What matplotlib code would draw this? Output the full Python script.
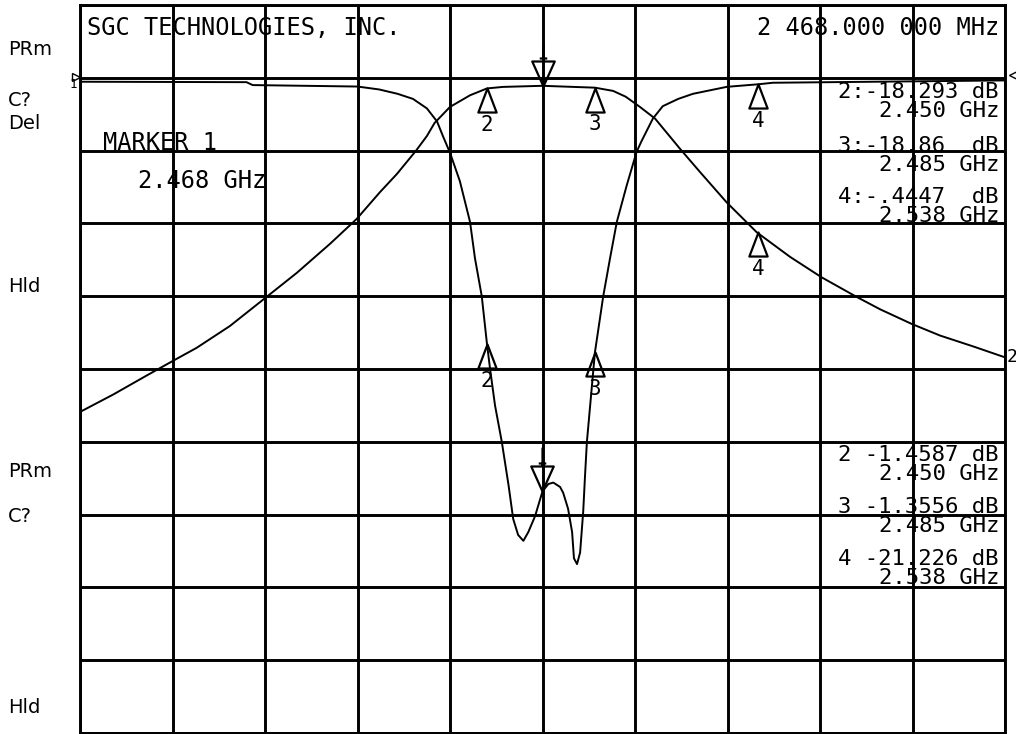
import numpy as np
import matplotlib
matplotlib.use("Agg")
import matplotlib.pyplot as plt
from matplotlib.path import Path
from matplotlib.markers import MarkerStyle
from matplotlib.transforms import offset_copy

# ---------------- data ----------------
# frequency axis (MHz): center 2468, span 300 -> 30 MHz/div
f_start, f_stop, f_div = 2318, 2618, 30

# channel 2 : transmission (10 dB/div, ref 0 dB one division below top)
f21 = [2318.0, 2328.8, 2339.6, 2348.5, 2355.8, 2366.6, 2378.5, 2388.3, 2399.1,
       2407.7, 2415.3, 2420.8, 2427.0, 2430.5, 2433.0, 2438.0, 2444.5, 2450.0,
       2455.2, 2468.0, 2485.0, 2490.9, 2495.0, 2499.6, 2504.5, 2512.6, 2519.1,
       2527.7, 2537.5, 2548.3, 2558.5, 2569.9, 2577.5, 2587.7, 2596.9, 2607.7,
       2618.0]
db21 = [-45.9, -43.5, -40.9, -38.8, -37.1, -34.1, -30.1, -26.8, -22.8,
        -19.4, -15.7, -13.2, -10.0, -8.0, -6.2, -4.0, -2.4, -1.4587,
        -1.25, -1.1, -1.3556, -1.8, -2.6, -4.0, -5.6, -9.75, -12.95,
        -17.1, -21.226, -24.6, -27.4, -30.1, -31.8, -33.8, -35.4, -36.9,
        -38.4]

# channel 1 : reflection (5 dB/div, ref 0 dB one division below top)
f11 = [2318, 2372, 2374, 2408, 2415, 2421, 2426, 2430.5, 2433.8, 2435.7, 2438,
       2441.2, 2444.5, 2446.1, 2448.3, 2450, 2451.0, 2452.6, 2454.8, 2457.0,
       2458.5, 2460.1, 2461.8, 2463.4, 2465.6, 2468.0, 2469.9, 2471.5, 2473.7,
       2474.7, 2476.3, 2477.6, 2478.2, 2479.2, 2480.2, 2481.2, 2481.8, 2482.4,
       2485.0, 2487.7, 2489.9, 2492.1, 2495.3, 2498.5, 2500.0, 2503.8, 2507.0,
       2512.0, 2516.8, 2527.8, 2538.0, 2542.7, 2618]
db11 = [-0.27, -0.3, -0.5, -0.6, -0.8, -1.1, -1.45, -2.1, -3.0, -4.0, -5.15,
        -7.1, -9.9, -12.4, -15.0, -18.293, -20.0, -22.5, -25.0, -28.0,
        -30.3, -31.4, -31.8, -31.2, -30.1, -28.4, -27.9, -27.8, -28.1,
        -28.5, -29.6, -31.2, -33.0, -33.4, -32.6, -29.8, -27.3, -25.0,
        -18.86, -15.0, -12.4, -9.9, -7.4, -5.1, -4.4, -2.8, -1.95,
        -1.45, -1.1, -0.62, -0.4447, -0.34, -0.18]

# markers (MHz) and their readings
mk_freq = [2450, 2485, 2538]
mk_ids = ["2", "3", "4"]
mk21 = [-1.4587, -1.3556, -21.226]
mk11 = [-18.293, -18.86, -0.4447]
m1_freq = 2468
m1_21 = -1.1
m1_11 = -28.4

top_readouts = [("2:-18.293 dB", "2.450 GHz"),
                ("3:-18.86  dB", "2.485 GHz"),
                ("4:-.4447  dB", "2.538 GHz")]
low_readouts = [("2 -1.4587 dB", "2.450 GHz"),
                ("3 -1.3556 dB", "2.485 GHz"),
                ("4 -21.226 dB", "2.538 GHz")]
left_labels = [("PRm", 55), ("C?", 106), ("Del", 129), ("Hld", 292),
               ("PRm", 477), ("C?", 522), ("Hld", 713)]

# ---------------- figure ----------------
W, H = 1016, 734
fig = plt.figure(figsize=(W / 100, H / 100), dpi=100)
fig.patch.set_facecolor("white")

def fx(x):
    return x / W

def fy(y):
    return 1 - y / H

L, R, T, B = 80, 1005, 5, 733
ax = fig.add_axes([fx(L), fy(B), (R - L) / W, (B - T) / H])
ax.set_xlim(f_start, f_stop)
ax.set_ylim(-90, 10)
ax.set_xticks(np.arange(f_start, f_stop + 1, f_div))
ax.set_yticks(np.arange(-90, 11, 10))
ax.grid(True, color="black", linewidth=2.1)
ax.tick_params(length=0, labelbottom=False, labelleft=False)
for s in ax.spines.values():
    s.set_linewidth(2.1)
    s.set_color("black")

ax2 = ax.twinx()
ax2.set_ylim(-45, 5)
ax2.set_yticks([])
for s in ax2.spines.values():
    s.set_visible(False)

tr_kw = dict(color="black", linewidth=1.4, solid_joinstyle="round")
ax.plot(f21, db21, **tr_kw)
ax2.plot(f11, db11, **tr_kw)

# marker symbols
up_path = Path([(0, 0), (-0.38, -1), (0.38, -1), (0, 0)],
               [Path.MOVETO, Path.LINETO, Path.LINETO, Path.CLOSEPOLY])
down_path = Path([(0, 0), (-0.45, 1), (0.45, 1), (0, 0),
                  (0, 1), (0, 1.75), (-0.15, 1.12), (0.15, 1.12)],
                 [Path.MOVETO, Path.LINETO, Path.LINETO, Path.CLOSEPOLY,
                  Path.MOVETO, Path.LINETO, Path.MOVETO, Path.LINETO])
up_m = MarkerStyle(up_path)
down_m = MarkerStyle(down_path)
mk_kw = dict(linestyle="none", mfc="none", mec="black", mew=1.6)

mono = "DejaVu Sans Mono"
for a, vals, m1v in ((ax, mk21, m1_21), (ax2, mk11, m1_11)):
    a.plot(mk_freq, vals, marker=up_m, ms=34.6, **mk_kw)
    a.plot([m1_freq], [m1v], marker=down_m, ms=63, **mk_kw)
    for f, v, n in zip(mk_freq, vals, mk_ids):
        a.annotate(n, xy=(f, v), xytext=(0, -26.5), textcoords="offset points",
                   ha="center", va="center", fontsize=15, family=mono)

# reference position indicators
ax.annotate("1", xy=(f_start, 0), xytext=(-5, -5), textcoords="offset points",
            ha="center", va="center", fontsize=9, family=mono,
            annotation_clip=False)
ax.plot([f_start], [0], marker=">", ms=6, mfc="none", mec="black", mew=1.0,
        clip_on=False,
        transform=offset_copy(ax.transData, fig=fig, x=-4, y=1, units="dots"))
ax.plot([f_stop], [0], marker="<", ms=6, mfc="none", mec="black", mew=1.0,
        clip_on=False,
        transform=offset_copy(ax.transData, fig=fig, x=8, y=3, units="dots"))
ax.annotate("2", xy=(f_stop, db21[-1]), xytext=(1.5, 0), textcoords="offset points",
            ha="left", va="center", fontsize=13, family=mono,
            annotation_clip=False)

# ---------------- texts ----------------
big = 16
fig.text(fx(87), fy(35), "SGC TECHNOLOGIES, INC.", ha="left", va="baseline",
         fontsize=17, family=mono)
fig.text(fx(999), fy(35), "2 468.000 000 MHz", ha="right", va="baseline",
         fontsize=17, family=mono)
fig.text(fx(103), fy(150), "MARKER 1", ha="left", va="baseline",
         fontsize=17, family=mono)
fig.text(fx(138), fy(188), "2.468 GHz", ha="left", va="baseline",
         fontsize=17, family=mono)

top_base = [(98, 117), (152, 171), (203, 222)]
low_base = [(461, 480), (513, 532), (565, 584)]
for (l1, l2), (b1, b2) in zip(top_readouts, top_base):
    fig.text(fx(999), fy(b1), l1, ha="right", va="baseline", fontsize=big, family=mono)
    fig.text(fx(999), fy(b2), l2, ha="right", va="baseline", fontsize=big, family=mono)
for (l1, l2), (b1, b2) in zip(low_readouts, low_base):
    fig.text(fx(999), fy(b1), l1, ha="right", va="baseline", fontsize=big, family=mono)
    fig.text(fx(999), fy(b2), l2, ha="right", va="baseline", fontsize=big, family=mono)

for txt, b in left_labels:
    fig.text(fx(8), fy(b), txt, ha="left", va="baseline", fontsize=14,
             family="DejaVu Sans")

fig.savefig("out.png", dpi=100, facecolor="white")
